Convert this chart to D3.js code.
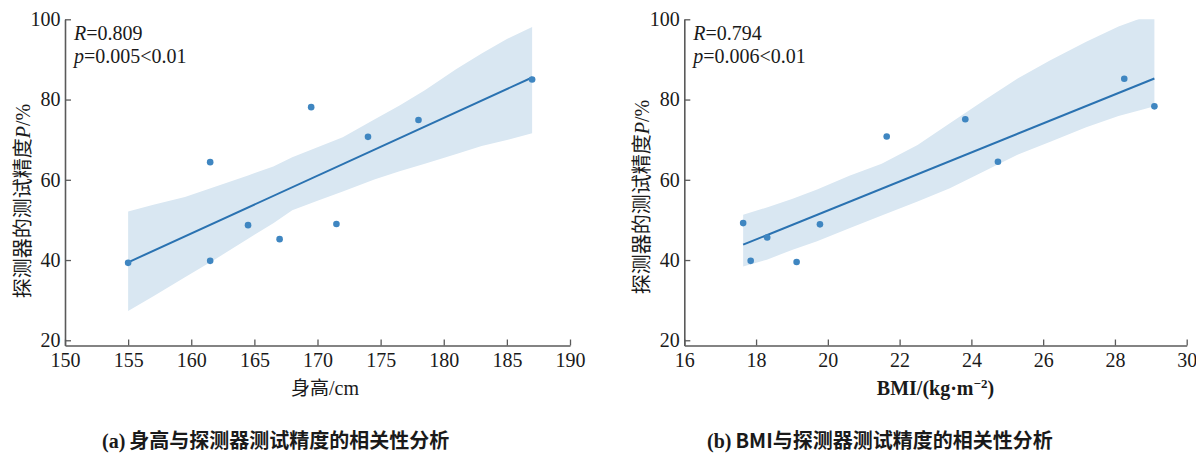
<!DOCTYPE html>
<html><head><meta charset="utf-8">
<script src="https://cdn.jsdelivr.net/npm/d3@7"></script>
<style>
html,body{margin:0;padding:0;background:#fff;}
svg{display:block;}
</style></head><body>
<svg id="chart" width="1196" height="455"></svg>
<script>
// ---------- data ----------
const heightCm   = [155, 161.5, 161.5, 164.5, 167, 169.5, 171.5, 174, 178, 187];
const heightAcc  = [39.3, 64.4, 39.8, 48.7, 45.2, 78.1, 49.0, 70.7, 74.9, 85.0];
const bmiVals    = [17.64, 17.85, 18.31, 19.13, 19.78, 21.64, 23.83, 24.74, 28.26, 29.10];
const bmiAcc     = [49.2, 39.8, 45.6, 39.5, 48.9, 70.8, 75.1, 64.5, 85.2, 78.3];

// confidence band edges
const heightBandX    = [155, 157, 159.5, 162, 164.5, 166.5, 168, 170, 172, 174.5, 176.5, 178.5, 181, 183, 185, 187];
const heightBandHigh = [52.1, 53.8, 55.7, 58.4, 61.1, 63.3, 65.6, 68.1, 70.6, 75.0, 78.5, 82.3, 87.6, 91.5, 95.1, 98.1];
const heightBandLow  = [27.3, 31.0, 35.7, 40.4, 45.3, 49.2, 52.4, 54.8, 57.1, 60.1, 62.1, 64.0, 66.4, 68.4, 69.9, 71.6];
const bmiBandX    = [17.64, 18.3, 19.0, 19.7, 20.6, 21.5, 22.5, 23.4, 24.4, 25.3, 26.2, 27.2, 28.1, 28.8, 29.10];
const bmiBandHigh = [51.3, 53.1, 55.2, 57.6, 61.0, 64.0, 68.7, 74.1, 80.1, 85.3, 89.8, 94.4, 98.2, 100.5, 101];
const bmiBandLow  = [38.4, 40.1, 42.5, 44.7, 47.9, 51.1, 54.6, 57.9, 62.3, 66.3, 69.5, 73.1, 75.9, 77.6, 78.3];

const heightTicks = [150, 155, 160, 165, 170, 175, 180, 185, 190];
const bmiTicks    = [16, 18, 20, 22, 24, 26, 28, 30];
const accTicks    = [20, 40, 60, 80, 100];

const statR = ["0.809", "0.794"];
const statP = ["0.005<0.01", "0.006<0.01"];
const yTitle = "探测器的测试精度";
const captions = [["(a)", "身高与探测器测试精度的相关性分析"], ["(b)", "BMI与探测器测试精度的相关性分析"]];

// ---------- drawing ----------
const svg = d3.select("#chart");
const SERIF = "'Liberation Serif','Times New Roman',serif";
const CJK = "'Noto Sans CJK SC','Noto Sans CJK JP',sans-serif";
const AXIS = "#5a5a5a";
const PT = "#3f86c1", LINE = "#2a72b1", BAND = "#d9e7f2";

function linreg(xs, ys) {
  const n = xs.length, mx = d3.mean(xs), my = d3.mean(ys);
  let sxy = 0, sxx = 0;
  for (let i = 0; i < n; i++) { sxy += (xs[i]-mx)*(ys[i]-my); sxx += (xs[i]-mx)**2; }
  const b = sxy / sxx; return {b, a: my - b*mx};
}

const panels = [
  {xs: heightCm, ys: heightAcc, bx: heightBandX, bh: heightBandHigh, bl: heightBandLow,
   xDom: [150, 190], xTicks: heightTicks, left: 65, right: 570, yLab: [22.5, 201], xLab: 325, cap: 102},
  {xs: bmiVals, ys: bmiAcc, bx: bmiBandX, bh: bmiBandHigh, bl: bmiBandLow,
   xDom: [16, 30], xTicks: bmiTicks, left: 684.3, right: 1186.7, yLab: [641.5, 197], xLab: 935.5, cap: 707}
];
const TOP = 19.3, BOTTOM = 345.5;

panels.forEach((p, i) => {
  const x = d3.scaleLinear().domain(p.xDom).range([p.left, p.right]);
  const y = d3.scaleLinear().domain([18.7, 100]).range([BOTTOM, TOP]);
  const g = svg.append("g");

  const clipId = "clip" + i;
  svg.append("clipPath").attr("id", clipId).append("rect")
    .attr("x", p.left).attr("y", TOP).attr("width", p.right - p.left + 2).attr("height", BOTTOM - TOP);

  // band
  const bandData = p.bx.map((v, k) => ({x: v, lo: p.bl[k], hi: p.bh[k]}));
  g.append("path").datum(bandData)
    .attr("clip-path", `url(#${clipId})`)
    .attr("fill", BAND)
    .attr("d", d3.area().x(d => x(d.x)).y0(d => y(d.lo)).y1(d => y(d.hi)));

  // regression line
  const r = linreg(p.xs, p.ys);
  const ext = d3.extent(p.xs);
  g.append("path").datum(ext)
    .attr("fill", "none").attr("stroke", LINE).attr("stroke-width", 2)
    .attr("d", d3.line().x(d => x(d)).y(d => y(r.a + r.b*d)));

  // points
  g.selectAll("circle.pt").data(p.xs.map((v, k) => [v, p.ys[k]])).join("circle")
    .attr("cx", d => x(d[0])).attr("cy", d => y(d[1])).attr("r", 3.3).attr("fill", PT);

  // axes
  const xa = g.append("g").attr("transform", `translate(0,${BOTTOM})`)
    .call(d3.axisBottom(x).tickValues(p.xTicks).tickFormat(d3.format("d"))
      .tickSizeInner(-6).tickSizeOuter(0).tickPadding(7.5));
  const ya = g.append("g").attr("transform", `translate(${p.left},0)`)
    .call(d3.axisLeft(y).tickValues(accTicks).tickFormat(d3.format("d"))
      .tickSizeInner(-6).tickSizeOuter(0).tickPadding(4.5));
  [xa, ya].forEach(a => {
    a.select(".domain").attr("stroke", AXIS).attr("stroke-width", 1.6);
    a.selectAll(".tick line").attr("stroke", AXIS).attr("stroke-width", 1.3);
    a.selectAll(".tick text").attr("fill", "#1a1a1a").style("font-family", SERIF).style("font-size", "20px");
  });

  // stats annotation
  const ann = g.append("g").style("font-family", SERIF).style("font-size", "20px").attr("fill", "#1a1a1a");
  const t1 = ann.append("text").attr("x", p.left + 9).attr("y", 40);
  t1.append("tspan").style("font-style", "italic").text("R");
  t1.append("tspan").text("=" + statR[i]);
  const t2 = ann.append("text").attr("x", p.left + 9).attr("y", 62.5);
  t2.append("tspan").style("font-style", "italic").text("p");
  t2.append("tspan").text("=" + statP[i]);

  // y title
  const yt = g.append("text")
    .attr("transform", `translate(${p.yLab[0]},${p.yLab[1]}) rotate(-90)`)
    .attr("text-anchor", "middle").attr("dy", "0.35em").attr("fill", "#1a1a1a")
    .style("font-size", "20px");
  yt.append("tspan").style("font-family", CJK).text(yTitle);
  yt.append("tspan").style("font-family", SERIF).style("font-style", "italic").text("P");
  yt.append("tspan").style("font-family", SERIF).text("/%");

  // x title
  const xt = g.append("text").attr("x", p.xLab).attr("y", 394.5)
    .attr("text-anchor", "middle").attr("fill", "#1a1a1a").style("font-size", "19px");
  if (i === 0) {
    xt.append("tspan").style("font-family", CJK).text("身高");
    xt.append("tspan").style("font-family", SERIF).style("font-size", "20px").text("/cm");
  } else {
    xt.append("tspan").style("font-family", SERIF).style("font-size", "20px").style("font-weight", "bold").text("BMI/(kg·m");
    xt.append("tspan").style("font-family", SERIF).style("font-weight", "bold").style("font-size", "13px")
      .attr("dy", "-7").text("−2");
    xt.append("tspan").style("font-family", SERIF).style("font-size", "20px").style("font-weight", "bold").attr("dy", "7").text(")");
  }

  // caption
  const ct = svg.append("text").attr("x", p.cap).attr("y", 448).attr("fill", "#1a1a1a")
    .style("font-size", "20px").style("font-weight", "bold");
  ct.append("tspan").style("font-family", SERIF).text(captions[i][0]);
  ct.append("tspan").style("font-family", CJK).attr("dx", 4).text(captions[i][1]);
});
</script>
</body></html>
